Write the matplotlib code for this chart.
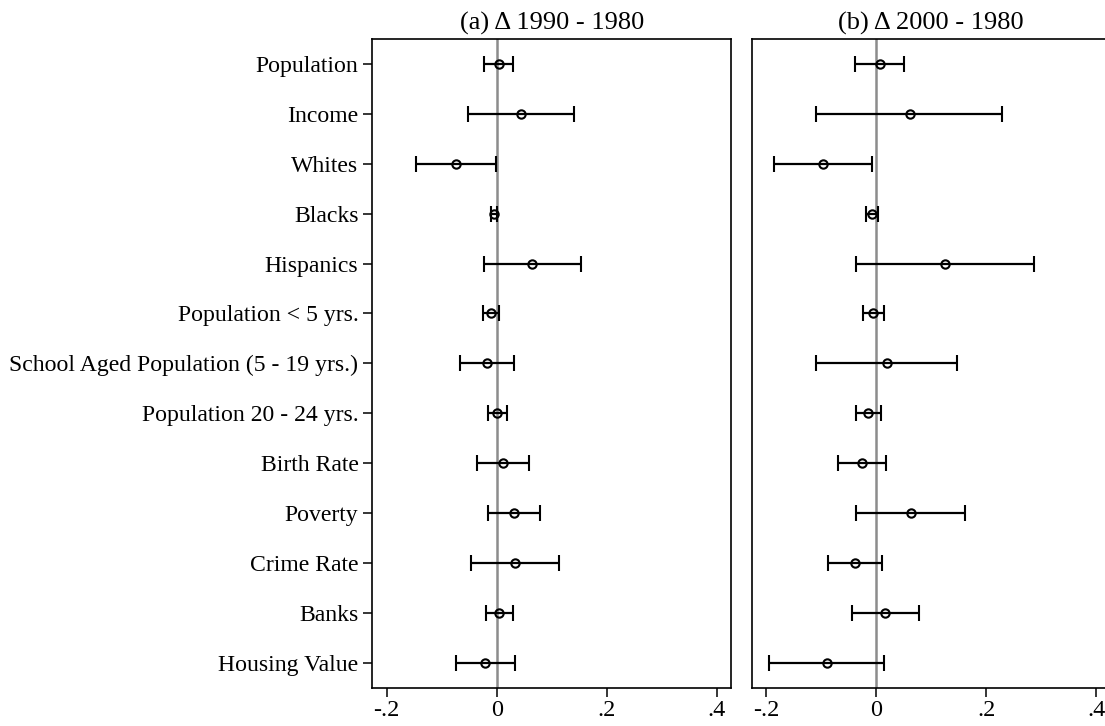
import matplotlib.pyplot as plt
import numpy as np

plt.rcParams["font.family"] = ["Liberation Serif", "DejaVu Serif"]

labels = [
    "Population",
    "Income",
    "Whites",
    "Blacks",
    "Hispanics",
    "Population < 5 yrs.",
    "School Aged Population (5 - 19 yrs.)",
    "Population 20 - 24 yrs.",
    "Birth Rate",
    "Poverty",
    "Crime Rate",
    "Banks",
    "Housing Value",
]

# panel (a): delta 1990 - 1980
est_a = [0.004, 0.045, -0.074, -0.004, 0.065, -0.010, -0.018, 0.001, 0.011, 0.031, 0.033, 0.004, -0.021]
lo_a = [-0.023, -0.052, -0.147, -0.010, -0.023, -0.025, -0.067, -0.016, -0.036, -0.016, -0.046, -0.020, -0.073]
hi_a = [0.030, 0.141, -0.002, 0.001, 0.153, 0.005, 0.031, 0.018, 0.059, 0.078, 0.113, 0.029, 0.033]

# panel (b): delta 2000 - 1980
est_b = [0.007, 0.061, -0.096, -0.007, 0.125, -0.005, 0.020, -0.015, -0.025, 0.063, -0.039, 0.017, -0.090]
lo_b = [-0.038, -0.109, -0.186, -0.019, -0.037, -0.024, -0.109, -0.037, -0.069, -0.036, -0.088, -0.043, -0.195]
hi_b = [0.051, 0.229, -0.007, 0.004, 0.288, 0.014, 0.148, 0.009, 0.019, 0.161, 0.010, 0.078, 0.014]

titles = ["(a) \u0394 1990 - 1980", "(b) \u0394 2000 - 1980"]
xticks = [-0.2, 0, 0.2, 0.4]
xticklabels = ["-.2", "0", ".2", ".4"]

W, H = 1105, 726
fig = plt.figure(figsize=(W / 100, H / 100), dpi=100)

ax_pos = [(372.3, 731.0), (751.7, 1110.4)]
top_px, bot_px = 39.0, 687.7

y = np.arange(len(labels))
panels = [(est_a, lo_a, hi_a), (est_b, lo_b, hi_b)]

for i, ((x0, x1), (est, lo, hi)) in enumerate(zip(ax_pos, panels)):
    ax = fig.add_axes([x0 / W, 1 - bot_px / H, (x1 - x0) / W, (bot_px - top_px) / H])
    est = np.array(est)
    err = [est - np.array(lo), np.array(hi) - est]
    ax.axvline(0, color="#8c8c8c", lw=1.8, zorder=1)
    ax.errorbar(
        est, y, xerr=err, fmt="o", mfc="none", mec="black", mew=1.5,
        ms=6, color="black", ecolor="black", elinewidth=1.6,
        capsize=5.5, capthick=1.6, zorder=3,
    )
    ax.set_xlim(-0.226, 0.426)
    ax.set_ylim(len(labels) - 0.5, -0.5)
    ax.set_xticks(xticks, xticklabels)
    ax.tick_params(axis="x", length=6.5, width=1.1, labelsize=17.5, pad=2.5)
    if i == 0:
        ax.set_yticks(y, labels)
        ax.tick_params(axis="y", length=6.5, width=1.1, labelsize=17.1, pad=3.5)
    else:
        ax.set_yticks([])
    for sp in ax.spines.values():
        sp.set_linewidth(1.2)
        sp.set_color("black")
    ax.set_title(titles[i], fontsize=19, pad=7)

fig.savefig("out.png", dpi=100)
